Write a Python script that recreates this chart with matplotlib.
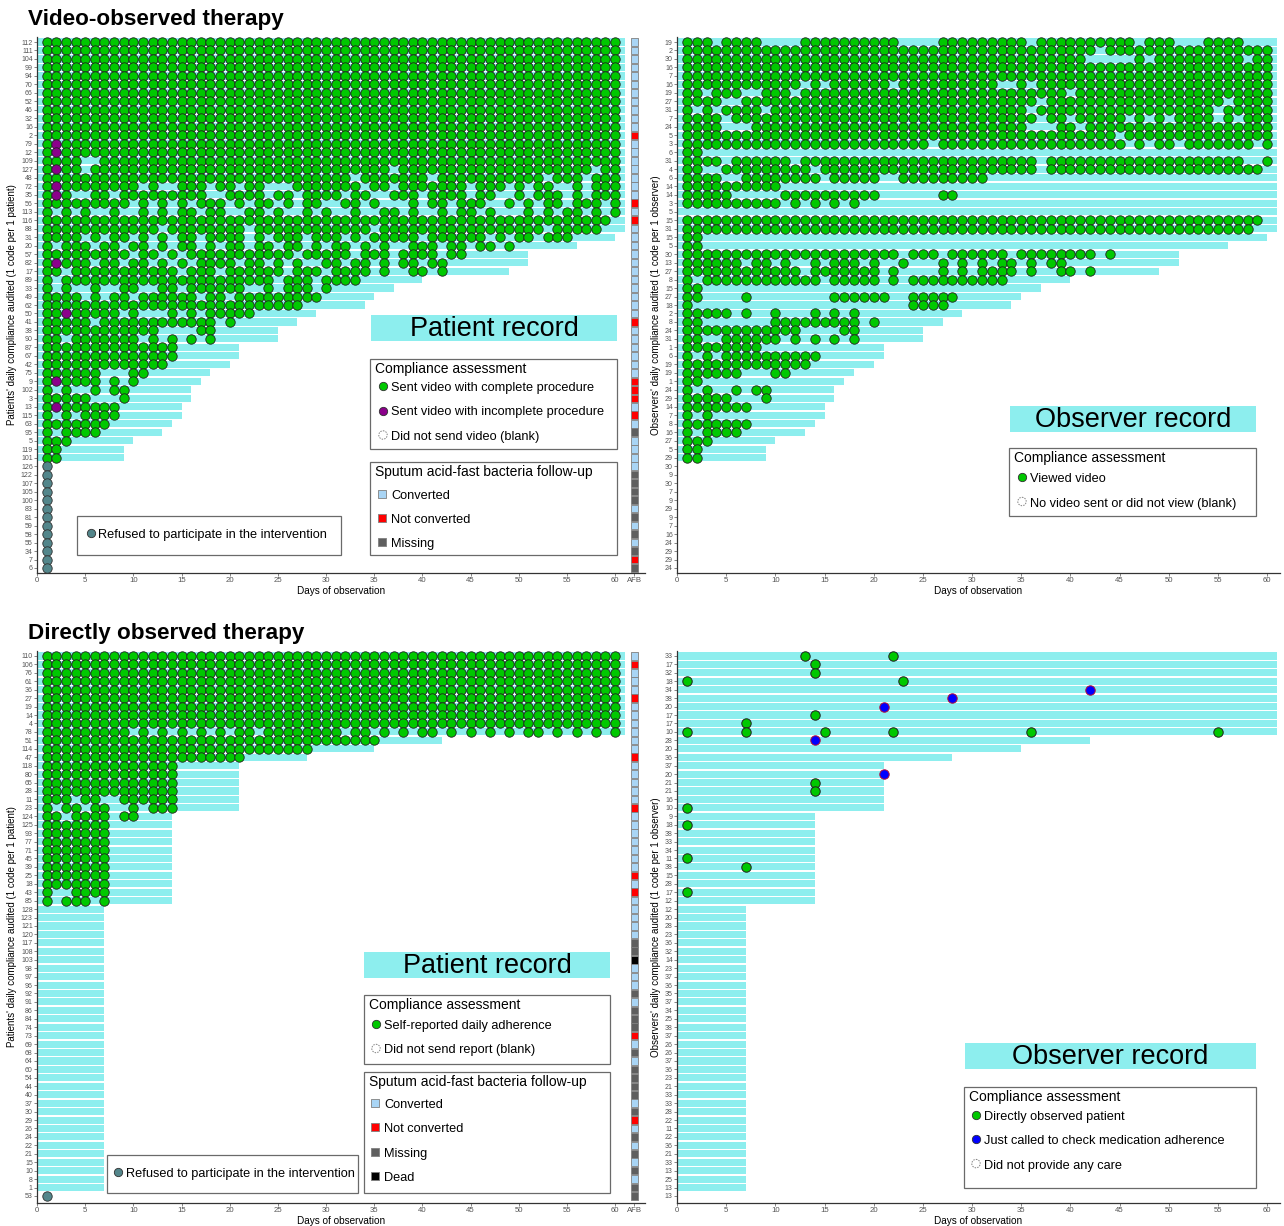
import numpy as np
import matplotlib
matplotlib.use("Agg")
import matplotlib.pyplot as plt
from matplotlib.patches import Rectangle, Circle

plt.rcParams['font.family'] = ['Liberation Sans', 'DejaVu Sans']

W, H = 1284, 1226
CYAN = '#8DEEEE'
GREEN = '#00C800'
PURPLE = '#8B008B'
TEAL = '#53868B'
BLUE = '#0000FF'
AFB_COL = {'C': '#A9D5F5', 'N': '#FF0000', 'M': '#5F5F5F', 'D': '#000000'}

# ---------------- video-observed therapy (VOT) ----------------
vot_ids = [112, 111, 104, 99, 94, 70, 66, 52, 46, 32, 16, 2, 79, 12, 109, 127, 48, 72, 35, 56,
           113, 116, 88, 31, 20, 57, 82, 17, 89, 33, 49, 62, 50, 41, 38, 90, 87, 67, 42, 75,
           9, 102, 3, 13, 115, 63, 95, 5, 119, 101, 126, 122, 107, 105, 100, 83, 81, 59, 58, 55,
           34, 7, 6]
vot_obs_ids = [19, 2, 30, 16, 7, 16, 19, 27, 31, 7, 24, 5, 3, 6, 31, 4, 6, 14, 14, 3,
               5, 15, 31, 15, 5, 30, 13, 27, 8, 15, 27, 18, 2, 8, 24, 31, 1, 6, 19, 19,
               1, 24, 29, 14, 7, 8, 16, 27, 5, 29, 30, 9, 30, 7, 9, 29, 9, 7, 16, 24,
               29, 29, 24]
# days of observation per patient (0 = refused)
vot_len = [61, 61, 61, 61, 61, 61, 61, 61, 61, 61, 61, 61, 61, 61, 61, 61, 61, 61, 61, 61,
           61, 61, 61, 60, 56, 51, 51, 49, 40, 37, 35, 34, 29, 27, 25, 25, 21, 21, 20, 18,
           17, 16, 16, 15, 15, 14, 13, 10, 9, 9, 0, 0, 0, 0, 0, 0, 0, 0, 0, 0,
           0, 0, 0]
# day-by-day codes, groups of 10 days: 1 complete video, 2 incomplete video, . blank, r refused
vot_patient = [
    "1111111111 1111111111 1111111111 1111111111 1111111111 1111111111",
    "1111111111 1111111111 1111111111 1111111111 1111111111 1111111111",
    "1111111111 1111111111 1111111111 1111111111 1111111111 1111111111",
    "1111111111 1111111111 1111111111 1111111111 1111111111 1111111111",
    "1111111111 1111111111 1111111111 1111111111 1111111111 1111111111",
    "1111111111 1111111111 1111111111 1111111111 1111111111 1111111111",
    "1111111111 1111111111 1111111111 1111111111 1111111111 1111111111",
    "1111111111 1111111111 1111111111 1111111111 1111111111 1111111111",
    "1111111111 1111111111 1111111111 1111111111 1111111111 1111111111",
    "1111111111 1111111111 1111111111 1111111111 1111111111 1111111111",
    "1111111111 1111111111 1111111111 1111111111 1111111111 1111111111",
    "1111111111 1111111111 1111111111 1111111111 1111111111 1111111111",
    "1211111111 1111111111 1111111111 1111111111 1111111111 1111111111",
    "1211111111 1111111111 1111111111 1111111111 1111111111 1111111111",
    "1111..1111 1111111111 1111111111 1111111111 1111111111 1111111111",
    "1211.11111 1111111111 1111111111 111111.111 1111111111 1111111.11",
    "1111111111 1111111111 1111111111 11.1111111 .111111111 11.111.111",
    "1211111111 .1..111.11 .11...1111 111.11.111 1111.111.1 .11..1.111",
    "121..11.11 1111111..1 111.11.111 1.11..111. 1111.11..1 .111.1.111",
    "111111111. 1.1.1.111. 1.11.1.11. .11.1...1. 11.111..1. 1.11.111.1",
    "1.1.1..1.. 1.1.11.11. .11.1..1.1 ..1..11.1. .1.11.1... 1.1.11.1.1",
    "1111111111 1111111111 1111111111 1111111111 1111111111 111111111.",
    "1111111111 11.1111111 1.11111111 1111.11111 1111111111 11.11111..",
    "1111.1.11. 1.1.11.111 1.1.111.11 1.1.11111. 111111.1.1 1.111.....",
    "1.111.11.1 1.1.11.1.1 1.11.11.1. 11.1.1..11 1.11.11.1",
    "111111111. 11.1.11111 111111.111 11.111.111 1.11",
    "12111.11.1 1.1.1.1111 .11.1.1..1 1.11.1.11. 11",
    "11.1111111 1111.111.1 11111.111. 1111.1..11 .1",
    "1.11111111 1111111111 1111.111.1 111",
    "1.1..1..11 ..11.11111 1..1.111.1",
    "1111.1.11. 111111.11. 111111111.",
    "1111111111 1111111111 1111111",
    "11211111.1 ...1.1.111 11",
    "11111.1111 11111111.1",
    "1111111111 11....11",
    "11.1111111 .1.1.1.1",
    "1111111111 1111",
    "1111111111 1111",
    "1111111111 111",
    "111111...1 1",
    "121111.1.1",
    "1.1..1.11",
    "11111...1",
    "12111111",
    "1.1.1111",
    "1111111",
    "1.1111",
    "111",
    "11",
    "11",
    "r", "r", "r", "r", "r", "r", "r", "r", "r", "r", "r", "r", "r",
]
# observers: 1 viewed video, . not viewed
vot_observer = [
    "111.1111.. ..11111111 11....1111 11111.1111 111111.111 ...1111...",
    "1111111111 1111111111 1111111111 1111111111 11.1111111 1111111111",
    "1111111111 1111111111 1111111111 1111111111 1.....1.11 1111111.11",
    "1111111111 1111111111 1111111111 1111111111 1111111111 1111111111",
    "1111111111 1111111111 1111111111 1111111111 1111111111 1111111111",
    "1111111111 11.1.11111 1.11111111 11..1.1111 1111111111 1111111111",
    "11.111..11 1.11111111 1111111111 111111111. 1111111111 1111111111",
    "1111..1111 1111111111 1111111111 111111.111 1111111111 11111.1111",
    "1.1.1111.1 1111111111 1111111111 11111.1111 1111111111 1111.11111",
    "1111.11111 1111111111 1111111111 111111.11. 11111.1.1. 1111.1.111",
    "1111...111 1111111111 1111111111 11111...11 .111111111 1111111111",
    "1111111111 1111111111 1111111111 1111111111 1111.11111 1111111111",
    "1111111111 1111111111 11111.1111 1111111111 11111.1.11 .1111111.1",
    "11",
    "1111.11111 1.11111111 1111111111 111111.111 1111111111 1111111..1",
    "11..111111 111.111111 1111111111 111111.111 1111111111 111111111.",
    "1111..1111 1111.11111 ..11111111 1",
    "1111111111",
    "11111..... 1111111111 ......11",
    "1111111111 .1.1.1.1",
    "",
    "1111111111 1111111111 1111111111 1111111111 1111111111 111111111.",
    "1111111111 1111111111 1111111111 1111111111 1111111111 11111111",
    "11",
    "11",
    "1111111111 1111111111 11.111.111 111.111111 11.1",
    "111111.11. 1..1.111.1 ..1...1.1. 1.11.1.11",
    "1111111111 11.1111111 .1....1.1. 1111.1..11 .1",
    "1.11111111 1111.11111 .1.1111111 111",
    "11",
    "11....1... .....11111 1..11111",
    "1......... .......... ...1111",
    "11111.1..1 ...1.1.1",
    "11.......1 11111111.1",
    "1111111111 11....11",
    "11..111111 .1.1.1.1",
    "11111111",
    "1.1.111111 1111",
    "1111111111 111",
    "111111...1 1",
    "11",
    "1.1..1.11",
    "11111...1",
    "1111111",
    "1.1",
    "1111111",
    "1.1111",
    "111",
    "11",
    "11",
    "", "", "", "", "", "", "", "", "", "", "", "", "",
]
# sputum AFB follow-up: C converted, N not converted, M missing, D dead
vot_afb = "CCCCCCCCCC CNCCCCCCCN CNCCCCCCCC CCCNCCCCCC NNNCNCMCCC CMMMMCMCMC MNM"

# ---------------- directly observed therapy (DOT) ----------------
dot_ids = [110, 106, 76, 61, 36, 27, 19, 14, 4, 78, 51, 114, 47, 118, 80, 65, 28, 11, 23, 124,
           125, 93, 77, 71, 45, 39, 25, 18, 43, 85, 128, 123, 121, 120, 117, 108, 103, 98, 97, 96,
           92, 91, 86, 84, 74, 73, 69, 68, 64, 60, 54, 44, 40, 37, 30, 29, 26, 24, 22, 21,
           15, 10, 8, 1, 53]
dot_obs_ids = [33, 17, 32, 18, 34, 38, 20, 17, 17, 10, 28, 20, 36, 37, 20, 21, 21, 16, 10, 9,
               18, 38, 33, 34, 11, 38, 15, 28, 17, 12, 12, 20, 28, 23, 36, 32, 14, 23, 37, 36,
               35, 37, 34, 25, 38, 37, 26, 26, 37, 36, 23, 21, 33, 33, 28, 22, 11, 22, 36, 21,
               33, 13, 25, 13, 13]
dot_len = [61, 61, 61, 61, 61, 61, 61, 61, 61, 61, 42, 35, 28, 21, 21, 21, 21, 21, 21, 14,
           14, 14, 14, 14, 14, 14, 14, 14, 14, 14, 7, 7, 7, 7, 7, 7, 7, 7, 7, 7,
           7, 7, 7, 7, 7, 7, 7, 7, 7, 7, 7, 7, 7, 7, 7, 7, 7, 7, 7, 7,
           7, 7, 7, 7, 0]
dot_patient = [
    "1111111111 1111111111 1111111111 1111111111 1111111111 1111111111",
    "1111111111 1111111111 1111111111 1111111111 1111111111 1111111111",
    "1111111111 1111111111 1111111111 1111111111 1111111111 1111111111",
    "1111111111 1111111111 1111111111 1111111111 1111111111 1111111111",
    "1111111111 1111111111 1111111111 1111111111 1111111111 1111111111",
    "1111111111 1111111111 1111111111 1111111111 1111111111 1111111111",
    "1111111111 1111111111 1111111111 1111111111 1111111111 1111111111",
    "1111111111 1111111111 1111111111 1111111111 1111111111 1111111111",
    "1111111111 1111111111 1111111111 1111111111 1111111111 1111111111",
    "111111111. 1.1.1.1.1. 11.1111111 1.11.1.1.1 1.1.1.1.1. 11.1.1.1.1",
    "1111111111 1111111111 1111111111 11111",
    "1111111111 1111111111 11111111",
    "1111111111 1111111111 1",
    "1111111111 1111",
    "1111111111 1111",
    "1111111111 1111",
    "1111111111 1111",
    "111.11..11 1111",
    "1.11.11..1 .111",
    "11.1111.11",
    "1111111", "1111111", "1111111", "1111111", "1111111", "1111111", "1111111", "1111111",
    "1..1111",
    "1.111.1",
    "", "", "", "", "", "", "", "", "", "", "", "", "", "", "", "", "", "",
    "", "", "", "", "", "", "", "", "", "", "", "", "", "", "", "",
    "r",
]
dot_afb = "CNCCCNCCCC CCNCCCCCNC CCCCCCNCNC CCCCMMDCCC MCMMMNCMCM MMMCMNCMCM CMCMM"
# observer visits: row index, day, kind (g directly observed, b phone call)
obs_row = [0, 0, 1, 2, 3, 3, 4, 5, 6, 7, 8, 9, 9, 9, 9, 9, 9, 10, 14, 15, 16, 18, 20, 24, 25, 28]
obs_day = [13, 22, 14, 14, 1, 23, 42, 28, 21, 14, 7, 1, 7, 15, 22, 36, 55, 14, 21, 14, 14, 1, 1, 1, 7, 1]
obs_kind = ['g', 'g', 'g', 'g', 'g', 'g', 'b', 'b', 'b', 'g', 'g', 'g', 'g', 'g', 'g', 'g', 'g',
            'b', 'b', 'g', 'g', 'g', 'g', 'g', 'g', 'g']

fig = plt.figure(figsize=(W / 100, H / 100), dpi=100)

DOT_S = 46
STYLE = {'1': (GREEN, '#202020'), '2': (PURPLE, '#202020'), 'r': (TEAL, '#303030')}


def px_rect(x0, y0, x1, y1):
    return [x0 / W, 1 - y1 / H, (x1 - x0) / W, (y1 - y0) / H]


def panel(rect, ids, lengths, rows, xmax, ylim, ylab, afb=None):
    ax = fig.add_axes(rect)
    n = len(ids)
    y = np.arange(n)
    ax.barh(y, lengths, height=0.84, left=0, color=CYAN, edgecolor='none', zorder=1)
    for code, (fc, ec) in STYLE.items():
        xs, ys = [], []
        for i, r in enumerate(rows):
            for d, c in enumerate(r.replace(' ', '')):
                if c == code:
                    xs.append(d + 1)
                    ys.append(i)
        if xs:
            ax.scatter(xs, ys, s=DOT_S, c=fc, edgecolors=ec, linewidths=0.6, zorder=3)
    ticks = list(range(0, 61, 5))
    labels = [str(t) for t in ticks]
    if afb is not None:
        codes = afb.replace(' ', '')
        ax.scatter(np.full(n, 62), y, marker='s', s=30, c=[AFB_COL[c] for c in codes],
                   edgecolors='#808080', linewidths=0.6, zorder=3)
        ticks.append(62)
        labels.append('AFB')
    ax.set_xlim(0, xmax)
    ax.set_ylim(*ylim)
    ax.set_xticks(ticks)
    ax.set_xticklabels(labels, fontsize=5.6, color='#555555')
    ax.set_yticks(y)
    ax.set_yticklabels([str(v) for v in ids], fontsize=5.0, color='#555555')
    ax.tick_params(length=2, width=0.5, pad=1, colors='#555555')
    for s in ['top', 'right']:
        ax.spines[s].set_visible(False)
    for s in ['left', 'bottom']:
        ax.spines[s].set_color('#333333')
        ax.spines[s].set_linewidth(0.9)
    ax.set_xlabel('Days of observation', fontsize=7.2, labelpad=1)
    ax.set_ylabel(ylab, fontsize=7, labelpad=3)
    return ax


ylab_p = "Patients' daily compliance audited (1 code per 1 patient)"
ylab_o = "Observers' daily compliance audited (1 code per 1 observer)"

panel(px_rect(37, 37, 645, 573), vot_ids, vot_len, vot_patient, 63.1, (62.59, -0.59), ylab_p, vot_afb)
panel(px_rect(677, 37, 1280, 573), vot_obs_ids, vot_len, vot_observer, 61.3, (62.59, -0.59), ylab_o)
panel(px_rect(37, 651, 645, 1203), dot_ids, dot_len, dot_patient, 63.1, (64.83, -0.59), ylab_p, dot_afb)
ax4 = panel(px_rect(677, 651, 1280, 1203), dot_obs_ids, dot_len, ["" for _ in dot_obs_ids], 61.3,
            (64.83, -0.59), ylab_o)
for kind, fc, ec in [('g', GREEN, '#202020'), ('b', BLUE, '#B0103A')]:
    xs = [d for d, k in zip(obs_day, obs_kind) if k == kind]
    ys = [r for r, k in zip(obs_row, obs_kind) if k == kind]
    ax4.scatter(xs, ys, s=DOT_S, c=fc, edgecolors=ec, linewidths=0.7, zorder=3)

# ---------------- overlay: titles and legends in pixel coordinates ----------------
ov = fig.add_axes([0, 0, 1, 1])
ov.set_xlim(0, W)
ov.set_ylim(H, 0)
ov.axis('off')

ov.text(28, 20, 'Video-observed therapy', fontsize=16.2, fontweight='bold', va='center')
ov.text(28, 634, 'Directly observed therapy', fontsize=16.2, fontweight='bold', va='center')

LEG_FS = 9.2


def band(x0, y0, x1, y1, label):
    ov.add_patch(Rectangle((x0, y0), x1 - x0, y1 - y0, color=CYAN, lw=0))
    ov.text((x0 + x1) / 2, (y0 + y1) / 2 + 1, label, fontsize=19.5, ha='center', va='center')


def box(x0, y0, x1, y1, title, entries, mx, tx, first, step):
    ov.add_patch(Rectangle((x0, y0), x1 - x0, y1 - y0, fill=False, ec='#6a6a6a', lw=0.9))
    if title:
        ov.text(x0 + 5, y0 + 10, title, fontsize=10, va='center')
    for k, (kind, color, label) in enumerate(entries):
        yy = first + step * k
        my = yy - 2
        if kind == 'dot':
            ov.scatter([mx], [my], s=36, c=color, edgecolors='#303030', linewidths=0.6)
        elif kind == 'blank':
            ov.add_patch(Circle((mx, my), 4.2, fill=False, ec='#808080', lw=0.7,
                                ls=(0, (1.5, 1.2))))
        else:
            ov.scatter([mx], [my], marker='s', s=30, c=color, edgecolors='#808080',
                       linewidths=0.6)
        ov.text(tx, yy, label, fontsize=LEG_FS, va='center')


afb_entries = [('sq', AFB_COL['C'], 'Converted'), ('sq', AFB_COL['N'], 'Not converted'),
               ('sq', AFB_COL['M'], 'Missing')]

# VOT patient
band(371, 315, 617, 341, 'Patient record')
box(370, 359, 617, 449, 'Compliance assessment',
    [('dot', GREEN, 'Sent video with complete procedure'),
     ('dot', PURPLE, 'Sent video with incomplete procedure'),
     ('blank', None, 'Did not send video (blank)')], 383, 391, 388, 24.5)
box(370, 462, 617, 555, 'Sputum acid-fast bacteria follow-up', afb_entries, 382, 391, 496, 24)
box(77, 516, 341, 555, None, [('dot', TEAL, 'Refused to participate in the intervention')], 91, 98, 535, 0)

# VOT observer
band(1010, 406, 1256, 432, 'Observer record')
box(1009, 448, 1256, 516, 'Compliance assessment',
    [('dot', GREEN, 'Viewed video'),
     ('blank', None, 'No video sent or did not view (blank)')], 1022, 1030, 479, 24.5)

# DOT patient
band(364, 952, 610, 978, 'Patient record')
box(364, 995, 610, 1064, 'Compliance assessment',
    [('dot', GREEN, 'Self-reported daily adherence'),
     ('blank', None, 'Did not send report (blank)')], 376, 384, 1026, 24.5)
box(364, 1072, 610, 1193, 'Sputum acid-fast bacteria follow-up',
    afb_entries + [('sq', AFB_COL['D'], 'Dead')], 375, 384, 1105, 24.3)
box(107, 1155, 358, 1193, None, [('dot', TEAL, 'Refused to participate in the intervention')], 118, 126, 1174, 0)

# DOT observer
band(965, 1043, 1256, 1069, 'Observer record')
box(964, 1087, 1256, 1188, 'Compliance assessment',
    [('dot', GREEN, 'Directly observed patient'),
     ('dot', BLUE, 'Just called to check medication adherence'),
     ('blank', None, 'Did not provide any care')], 976, 984, 1117, 24.3)

fig.savefig('out.png', dpi=100)
